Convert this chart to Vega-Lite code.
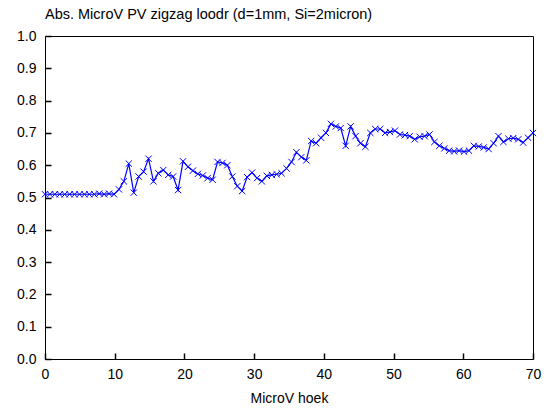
{
  "$schema": "https://vega.github.io/schema/vega-lite/v6.json",
  "width": 488,
  "height": 323,
  "autosize": {"type": "none"},
  "padding": {"left": 45, "top": 36, "right": 14, "bottom": 51},
  "background": "white",
  "config": {
    "view": {"stroke": "#000000", "strokeWidth": 1},
    "axis": {
      "grid": false, "domain": false,
      "labelFont": "Liberation Sans", "labelFontSize": 14, "labelColor": "#000000",
      "titleFont": "Liberation Sans", "titleFontSize": 14, "titleFontWeight": "normal", "titleColor": "#000000"
    }
  },
  "title": {
    "text": "Abs. MicroV PV zigzag loodr (d=1mm, Si=2micron)",
    "anchor": "start", "frame": "group", "offset": 7,
    "font": "Liberation Sans", "fontSize": 14.5, "fontWeight": "normal", "color": "#000000"
  },
  "data": {"values": [
    {"x": 0.00, "y": 0.51}, {"x": 0.71, "y": 0.51}, {"x": 1.41, "y": 0.51}, {"x": 2.12, "y": 0.51},
    {"x": 2.83, "y": 0.51}, {"x": 3.54, "y": 0.51}, {"x": 4.24, "y": 0.51}, {"x": 4.95, "y": 0.51},
    {"x": 5.66, "y": 0.51}, {"x": 6.36, "y": 0.51}, {"x": 7.07, "y": 0.51}, {"x": 7.78, "y": 0.512},
    {"x": 8.48, "y": 0.51}, {"x": 9.19, "y": 0.512}, {"x": 9.90, "y": 0.51}, {"x": 10.61, "y": 0.525},
    {"x": 11.31, "y": 0.55}, {"x": 12.02, "y": 0.605}, {"x": 12.73, "y": 0.515}, {"x": 13.43, "y": 0.565},
    {"x": 14.14, "y": 0.58}, {"x": 14.85, "y": 0.62}, {"x": 15.56, "y": 0.55}, {"x": 16.26, "y": 0.575},
    {"x": 16.97, "y": 0.585}, {"x": 17.68, "y": 0.57}, {"x": 18.38, "y": 0.565}, {"x": 19.09, "y": 0.523},
    {"x": 19.80, "y": 0.612}, {"x": 20.51, "y": 0.595}, {"x": 21.21, "y": 0.583}, {"x": 21.92, "y": 0.573},
    {"x": 22.63, "y": 0.568}, {"x": 23.33, "y": 0.56}, {"x": 24.04, "y": 0.555}, {"x": 24.75, "y": 0.61},
    {"x": 25.46, "y": 0.607}, {"x": 26.16, "y": 0.60}, {"x": 26.87, "y": 0.565}, {"x": 27.58, "y": 0.535},
    {"x": 28.28, "y": 0.52}, {"x": 28.99, "y": 0.563}, {"x": 29.70, "y": 0.577}, {"x": 30.41, "y": 0.56},
    {"x": 31.11, "y": 0.55}, {"x": 31.82, "y": 0.567}, {"x": 32.53, "y": 0.57}, {"x": 33.23, "y": 0.572},
    {"x": 33.94, "y": 0.575}, {"x": 34.65, "y": 0.59}, {"x": 35.36, "y": 0.61}, {"x": 36.06, "y": 0.64},
    {"x": 36.77, "y": 0.625}, {"x": 37.48, "y": 0.615}, {"x": 38.18, "y": 0.675}, {"x": 38.89, "y": 0.668},
    {"x": 39.60, "y": 0.685}, {"x": 40.30, "y": 0.70}, {"x": 41.01, "y": 0.728}, {"x": 41.72, "y": 0.72},
    {"x": 42.42, "y": 0.715}, {"x": 43.13, "y": 0.66}, {"x": 43.84, "y": 0.72}, {"x": 44.55, "y": 0.69},
    {"x": 45.25, "y": 0.668}, {"x": 45.96, "y": 0.657}, {"x": 46.67, "y": 0.70}, {"x": 47.37, "y": 0.712},
    {"x": 48.08, "y": 0.712}, {"x": 48.79, "y": 0.70}, {"x": 49.49, "y": 0.703}, {"x": 50.20, "y": 0.707},
    {"x": 50.91, "y": 0.695}, {"x": 51.62, "y": 0.693}, {"x": 52.32, "y": 0.69}, {"x": 53.03, "y": 0.68},
    {"x": 53.74, "y": 0.688}, {"x": 54.45, "y": 0.69}, {"x": 55.15, "y": 0.695}, {"x": 55.86, "y": 0.672},
    {"x": 56.57, "y": 0.66}, {"x": 57.28, "y": 0.652}, {"x": 57.98, "y": 0.645}, {"x": 58.69, "y": 0.643},
    {"x": 59.40, "y": 0.645}, {"x": 60.10, "y": 0.642}, {"x": 60.81, "y": 0.645}, {"x": 61.52, "y": 0.66},
    {"x": 62.22, "y": 0.658}, {"x": 62.93, "y": 0.655}, {"x": 63.64, "y": 0.65}, {"x": 64.35, "y": 0.668},
    {"x": 65.05, "y": 0.69}, {"x": 65.76, "y": 0.672}, {"x": 66.47, "y": 0.682}, {"x": 67.17, "y": 0.684},
    {"x": 67.88, "y": 0.68}, {"x": 68.59, "y": 0.67}, {"x": 69.29, "y": 0.685}, {"x": 70.00, "y": 0.70}
  ]},
  "layer": [
    {
      "mark": {"type": "line", "color": "#0000FF", "strokeWidth": 1.2},
      "encoding": {
        "x": {"field": "x", "type": "quantitative", "scale": {"domain": [0, 70], "nice": false, "zero": false},
              "axis": {"orient": "bottom", "tickCount": 8, "tickSize": 6, "tickWidth": 1.5, "tickColor": "#000000", "offset": -6, "labelPadding": 8, "title": "MicroV hoek", "titlePadding": 10, "labelFlush": false}},
        "y": {"field": "y", "type": "quantitative", "scale": {"domain": [0, 1], "nice": false},
              "axis": {"orient": "left", "tickCount": 10, "tickSize": 6, "tickWidth": 1.5, "tickColor": "#000000", "offset": -6, "format": ".1f", "labelPadding": 9, "title": null, "labelFlush": false}}
      }
    },
    {
      "mark": {"type": "point", "shape": "M-1,-1L1,1M-1,1L1,-1", "filled": false, "color": "#0000FF", "strokeWidth": 1, "size": 40, "opacity": 1},
      "encoding": {
        "x": {"field": "x", "type": "quantitative"},
        "y": {"field": "y", "type": "quantitative"}
      }
    }
  ]
}
